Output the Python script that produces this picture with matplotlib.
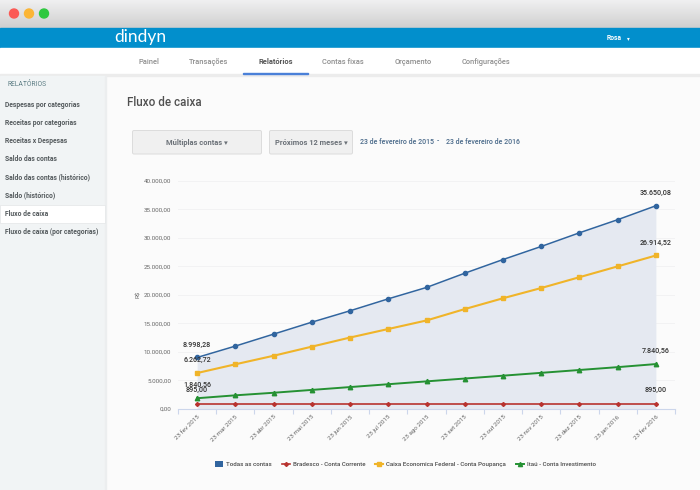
import matplotlib
matplotlib.use("Agg")
import matplotlib.pyplot as plt
import numpy as np
from matplotlib.lines import Line2D
from matplotlib.patches import Rectangle, FancyBboxPatch, Circle, Patch

plt.rcParams['font.family'] = ['Roboto', 'DejaVu Sans']

dates = ["23 fev 2015", "23 mar 2015", "23 abr 2015", "23 mai 2015", "23 jun 2015", "23 jul 2015",
         "23 ago 2015", "23 set 2015", "23 out 2015", "23 nov 2015", "23 dez 2015", "23 jan 2016", "23 fev 2016"]
todas = [8998.28, 11000, 13100, 15200, 17200, 19300, 21300, 23800, 26200, 28500, 30900, 33200, 35650.08]
bradesco = [895] * 13
caixa = [6262.72, 7800, 9300, 10900, 12500, 14000, 15500, 17500, 19400, 21200, 23100, 25000, 26914.52]
itau = [1840.56, 2350, 2800, 3300, 3800, 4300, 4800, 5300, 5800, 6300, 6800, 7300, 7840.56]
yticks = [0, 5000, 10000, 15000, 20000, 25000, 30000, 35000, 40000]
ylabels = ["0,00", "5.000,00", "10.000,00", "15.000,00", "20.000,00", "25.000,00", "30.000,00", "35.000,00", "40.000,00"]
menu = ["Despesas por categorias", "Receitas por categorias", "Receitas x Despesas", "Saldo das contas",
        "Saldo das contas (histórico)", "Saldo (histórico)", "Fluxo de caixa", "Fluxo de caixa (por categorias)"]
tabs = ["Painel", "Transações", "Relatórios", "Contas fixas", "Orçamento", "Configurações"]
series_names = ["Todas as contas", "Bradesco - Conta Corrente", "Caixa Economica Federal - Conta Poupança", "Itaú - Conta Investimento"]
BLUE, RED, YEL, GRN = "#31659f", "#b8332f", "#f0b429", "#259133"

W, H = 700, 490
fig = plt.figure(figsize=(7, 4.9), dpi=100, facecolor="#fbfbfb")
bg = fig.add_axes([0, 0, 1, 1], zorder=0)
bg.set_xlim(0, W); bg.set_ylim(H, 0); bg.axis("off")

# window title bar
grad = np.linspace(0, 1, 64)[:, None]
bg.imshow(grad, extent=(0, W, 28, 0), cmap=matplotlib.colors.LinearSegmentedColormap.from_list("g", ["#f0f0f1", "#cfcfcf"]),
          aspect="auto", zorder=1)
bg.set_xlim(0, W); bg.set_ylim(H, 0)
for x, c in zip((14, 29, 44), ("#fb5a55", "#fbb535", "#2fc840")):
    bg.add_patch(Circle((x, 13.5), 4.5, color=c, zorder=3))
bg.add_patch(Rectangle((0, 28), W, 20.5, color="#028fcc", zorder=2))
bg.add_patch(Rectangle((0, 48.5), W, 26, color="white", zorder=2))
bg.add_patch(Rectangle((0, 74.5), W, 1.5, color="#ececec", zorder=2))
bg.add_patch(Rectangle((0, 76), 105, H - 76, color="#f1f4f5", zorder=2))
bg.add_patch(Rectangle((105, 76), 1, H - 76, color="#eceeef", zorder=2))
bg.text(114, 37, "dindyn", color="white", fontsize=12.5, family="Lato", va="center", ha="left", zorder=4)
bg.text(614, 38.5, "Rosa", color="white", fontsize=4.8, weight="bold", va="center", ha="center", zorder=4)
bg.text(628.5, 38.5, "▾", color="white", fontsize=4, va="center", ha="center", family="DejaVu Sans", zorder=4)

for t, x in zip(tabs, (148.5, 209, 275.5, 343, 413, 485.5)):
    active = t == "Relatórios"
    bg.text(x, 61.5, t, fontsize=5.4, weight="bold" if active else "medium",
            color="#555555" if active else "#8f8f8f", ha="center", va="center", zorder=4)
bg.add_patch(Rectangle((243, 73), 64.5, 1.2, color="#4a80d8", zorder=4))

bg.text(7, 84.5, "RELATÓRIOS", fontsize=4.9, color="#5f7f86", va="center", zorder=4)
bg.add_patch(Rectangle((0, 205), 105, 18, color="white", ec="#e3e6e7", lw=0.5, zorder=3))
for i, t in enumerate(menu):
    bg.text(5, 105 + 18.15 * i, t, fontsize=4.85, weight="bold", color="#555b5e", va="center", zorder=4)

bg.text(127, 102, "Fluxo de caixa", fontsize=8.4, color="#505050", weight="medium", va="center", zorder=4)

for x0, x1, label in ((132.5, 261.5, "Múltiplas contas ▾"), (269.5, 352.5, "Próximos 12 meses ▾")):
    bg.add_patch(FancyBboxPatch((x0, 130.5), x1 - x0, 23.5, boxstyle="round,pad=0,rounding_size=1.5",
                                fc="#f0f0f0", ec="#dcdcdc", lw=0.7, zorder=3))
    bg.text((x0 + x1) / 2, 142.5, label, fontsize=5.4, weight="bold", color="#6b7178", ha="center", va="center",
            family=["Roboto", "DejaVu Sans"], zorder=4)
for t, x, ha in (("23 de fevereiro de 2015", 360.5, "left"), ("-", 437.5, "center"), ("23 de fevereiro de 2016", 446, "left")):
    bg.text(x, 141.5, t, fontsize=5.0, weight="medium", color="#4a6a8a", ha=ha, va="center", zorder=4)

# chart
ax = fig.add_axes([178 / W, 1 - 408.7 / H, (675 - 178) / W, (408.7 - 181) / H], zorder=2)
ax.patch.set_alpha(0)
x = np.arange(len(dates))
ax.set_xlim(-0.5, 12.5); ax.set_ylim(0, 40000)
ax.fill_between(x, todas, 0, color="#e5e9f1", lw=0, zorder=1)
ax.plot(x, todas, color=BLUE, lw=1.1, marker="o", ms=3.0, zorder=3)
ax.plot(x, bradesco, color=RED, lw=1.2, marker="D", ms=2.0, zorder=3)
ax.plot(x, caixa, color=YEL, lw=1.5, marker="s", ms=3.3, zorder=3)
ax.plot(x, itau, color=GRN, lw=1.4, marker="^", ms=3.2, zorder=3)
ax.set_yticks(yticks, ylabels)
ax.set_xticks(x, dates, rotation=45, ha="right", rotation_mode="anchor")
ax.set_xticks(np.arange(-0.5, 13, 1), minor=True)
ax.grid(axis="y", color="#f2f2f3", lw=0.7, zorder=0)
ax.set_axisbelow(True)
for s in ("top", "right", "left"):
    ax.spines[s].set_visible(False)
ax.spines["bottom"].set_color("#ccd6eb"); ax.spines["bottom"].set_linewidth(0.8)
ax.tick_params(axis="y", length=0, labelsize=4.5, labelcolor="#666666", pad=5)
ax.tick_params(axis="x", which="major", length=0, labelsize=4.5, labelcolor="#666666", pad=4)
ax.tick_params(axis="x", which="minor", length=3.5, width=0.8, color="#ccd6eb")
ax.set_ylabel("R$", fontsize=4.5, color="#666666")
ax.yaxis.set_label_coords(-0.075, 0.5)

def lab(i, series, text, dy):
    ax.annotate(text, (x[i], series[i]), xytext=(0, dy), textcoords="offset pixels", ha="center", va="center",
                fontsize=5.1, weight="medium", color="#333333", zorder=5)
lab(0, todas, "8.998,28", 13)
lab(0, caixa, "6.262,72", 13)
lab(0, itau, "1.840,56", 13)
lab(0, bradesco, "895,00", 13.5)
lab(12, todas, "35.650,08", 13)
lab(12, caixa, "26.914,52", 13)
lab(12, itau, "7.840,56", 13.5)
lab(12, bradesco, "895,00", 13.5)

handles = [Patch(fc=BLUE, ec="none"),
           Line2D([], [], color=RED, lw=1.2, marker="D", ms=2.0),
           Line2D([], [], color=YEL, lw=1.5, marker="s", ms=3.0),
           Line2D([], [], color=GRN, lw=1.4, marker="^", ms=3.0)]
leg = fig.legend(handles, series_names, ncol=4, frameon=False, loc="center", bbox_to_anchor=(405.5 / W, 1 - 464 / H),
                 fontsize=4.45, labelcolor="#4a4a4a", handlelength=1.3, handleheight=1.0, handletextpad=0.5,
                 columnspacing=1.6, borderpad=0)
for t in leg.get_texts():
    t.set_weight("medium")
fig.savefig("out.png", dpi=100, facecolor=fig.get_facecolor())
